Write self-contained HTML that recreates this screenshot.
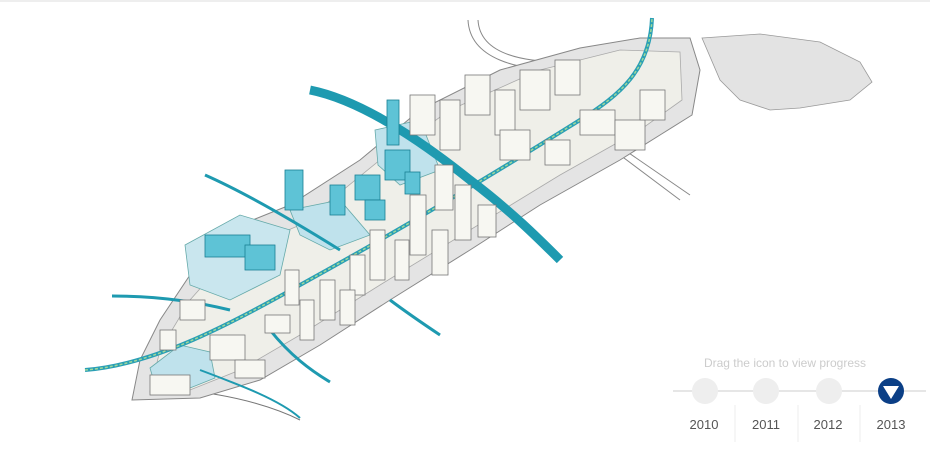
<!DOCTYPE html>
<html><head><style>
body{margin:0;background:#fff;width:930px;height:464px;overflow:hidden;font-family:"Liberation Sans",sans-serif}
</style></head><body>
<svg width="930" height="464" viewBox="0 0 930 464" xmlns="http://www.w3.org/2000/svg">
<line x1="0" y1="1" x2="930" y2="1" stroke="#ddd"/>
<!-- far right island -->
<path d="M702 38 L760 34 L820 42 L860 62 L872 82 L850 100 L800 108 L770 110 L740 100 L720 80 Z" fill="#e3e3e3" stroke="#999" stroke-width="0.8"/>
<!-- roads in background -->
<path d="M468 20 C470 60 520 70 560 70" fill="none" stroke="#888" stroke-width="1"/>
<path d="M478 20 C480 55 525 62 565 62" fill="none" stroke="#888" stroke-width="1"/>
<path d="M600 140 L680 200" stroke="#888" stroke-width="1"/>
<path d="M610 140 L690 195" stroke="#888" stroke-width="1"/>
<path d="M180 390 C240 395 280 410 300 420" fill="none" stroke="#777" stroke-width="1"/>
<!-- main island -->
<path d="M132 400 L140 360 L160 320 L200 260 L240 225 L290 205 L360 160 L420 110 L500 70 L580 48 L640 38 L690 38 L700 70 L692 115 L660 135 L620 160 L540 205 L470 250 L390 300 L320 345 L260 380 L200 398 Z" fill="#e4e4e4" stroke="#888" stroke-width="1"/>
<path d="M150 392 L160 350 L190 300 L230 255 L300 225 L380 160 L450 110 L540 70 L620 50 L680 52 L682 100 L640 130 L560 175 L470 230 L380 285 L300 335 L240 370 L190 390 Z" fill="#efefe9" stroke="#aaa" stroke-width="0.8"/>
<!-- light blue zones -->
<path d="M185 245 L240 215 L290 230 L280 275 L230 300 L190 285 Z" fill="#c9e6ee" stroke="#6aa" stroke-width="0.8"/>
<path d="M290 210 L340 200 L370 235 L330 250 L300 235 Z" fill="#bfe2ec" stroke="#6aa" stroke-width="0.8"/>
<path d="M375 130 L420 120 L440 170 L400 185 L378 165 Z" fill="#bfe2ec" stroke="#6aa" stroke-width="0.8"/>
<path d="M150 368 L180 345 L210 352 L215 378 L185 390 L155 385 Z" fill="#bfe2ec" stroke="#6aa" stroke-width="0.8"/>
<!-- main transit line -->
<path d="M85 370 C150 365 220 330 300 285 C400 230 500 170 580 120 C620 95 650 70 652 18" fill="none" stroke="#2a9fb5" stroke-width="4"/>
<path d="M85 370 C150 365 220 330 300 285 C400 230 500 170 580 120 C620 95 650 70 652 18" fill="none" stroke="#9fd89a" stroke-width="1.5" stroke-dasharray="3 2"/>
<!-- cyan bridges -->
<path d="M310 90 C360 100 420 140 470 180 C510 210 540 240 560 260" fill="none" stroke="#1e9ab0" stroke-width="9"/>
<path d="M205 175 C250 195 300 225 340 250" fill="none" stroke="#1e9ab0" stroke-width="3"/>
<path d="M112 296 C150 296 190 300 230 310" fill="none" stroke="#1e9ab0" stroke-width="3"/>
<path d="M270 330 C290 355 310 370 330 382" fill="none" stroke="#1e9ab0" stroke-width="3"/>
<path d="M390 300 C410 315 425 325 440 335" fill="none" stroke="#1e9ab0" stroke-width="3"/>
<path d="M200 370 C240 385 280 400 300 418" fill="none" stroke="#1e9ab0" stroke-width="2"/>
<!-- white buildings -->
<g fill="#f7f7f2" stroke="#777" stroke-width="0.8">
<rect x="465" y="75" width="25" height="40"/><rect x="495" y="90" width="20" height="45"/><rect x="520" y="70" width="30" height="40"/>
<rect x="555" y="60" width="25" height="35"/><rect x="440" y="100" width="20" height="50"/><rect x="410" y="95" width="25" height="40"/>
<rect x="500" y="130" width="30" height="30"/><rect x="545" y="140" width="25" height="25"/><rect x="580" y="110" width="35" height="25"/>
<rect x="615" y="120" width="30" height="30"/><rect x="640" y="90" width="25" height="30"/>
<rect x="435" y="165" width="18" height="45"/><rect x="455" y="185" width="16" height="55"/><rect x="478" y="205" width="18" height="32"/>
<rect x="410" y="195" width="16" height="60"/><rect x="432" y="230" width="16" height="45"/><rect x="370" y="230" width="15" height="50"/>
<rect x="395" y="240" width="14" height="40"/><rect x="350" y="255" width="15" height="40"/><rect x="320" y="280" width="15" height="40"/>
<rect x="340" y="290" width="15" height="35"/><rect x="300" y="300" width="14" height="40"/><rect x="285" y="270" width="14" height="35"/>
<rect x="265" y="315" width="25" height="18"/><rect x="210" y="335" width="35" height="25"/><rect x="180" y="300" width="25" height="20"/>
<rect x="160" y="330" width="16" height="20"/><rect x="150" y="375" width="40" height="20"/><rect x="235" y="360" width="30" height="18"/>
</g>
<!-- cyan buildings -->
<g fill="#5ec3d6" stroke="#1a7f93" stroke-width="0.8">
<rect x="387" y="100" width="12" height="45"/><rect x="385" y="150" width="25" height="30"/><rect x="405" y="172" width="15" height="22"/>
<rect x="285" y="170" width="18" height="40"/><rect x="330" y="185" width="15" height="30"/><rect x="355" y="175" width="25" height="25"/>
<rect x="365" y="200" width="20" height="20"/><rect x="205" y="235" width="45" height="22"/><rect x="245" y="245" width="30" height="25"/>
</g>
<!-- timeline -->
<text x="785" y="367" font-size="12" fill="#ccc" text-anchor="middle">Drag the icon to view progress</text>
<line x1="673" y1="391" x2="926" y2="391" stroke="#e6e6e6" stroke-width="2"/>
<circle cx="705" cy="391" r="13" fill="#eee"/>
<circle cx="766" cy="391" r="13" fill="#eee"/>
<circle cx="829" cy="391" r="13" fill="#eee"/>
<circle cx="891" cy="391" r="13" fill="#0b3f86"/>
<path d="M883 386 L899 386 L891 399 Z" fill="#fff"/>
<g stroke="#eee"><line x1="735" y1="405" x2="735" y2="442"/><line x1="798" y1="405" x2="798" y2="442"/><line x1="860" y1="405" x2="860" y2="442"/></g>
<g font-size="13" fill="#555" text-anchor="middle"><text x="704" y="429">2010</text><text x="766" y="429">2011</text><text x="828" y="429">2012</text><text x="891" y="429">2013</text></g>
</svg>
</body></html>
